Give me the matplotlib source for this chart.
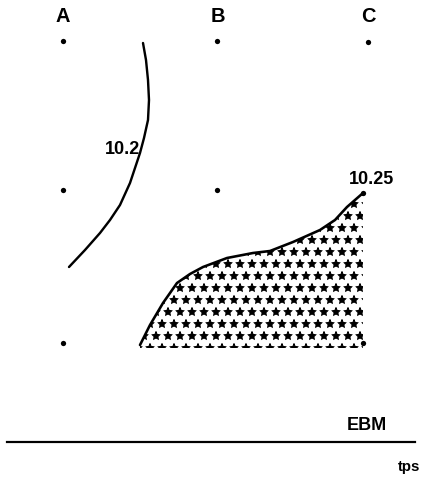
import matplotlib
matplotlib.use("Agg")
import matplotlib.pyplot as plt
from matplotlib.patches import Polygon

# Station grid (columns A, B, C; three rows of sampling points)
station_labels = ["A", "B", "C"]
label_x = [63, 218, 368]
label_y = [16, 16, 16]
dot_x = [63, 217, 368, 63, 217, 363, 63, 363]
dot_y = [41, 41, 42, 190, 190, 193, 343, 343]

# Isoline 10.2
iso_x = [143, 146, 148, 149, 148, 144, 140, 135, 130, 120, 110, 100, 85, 69]
iso_y = [43, 60, 80, 100, 120, 138, 153, 168, 183, 205, 220, 233, 250, 267]

# Front of the 10.25 zone
front_x = [140, 150, 163, 177, 190, 203, 227, 253, 270, 293, 320, 335, 347, 363]
front_y = [345, 325, 303, 283, 274, 267, 258, 253, 251, 242, 230, 220, 207, 193]
zone_bottom = 348

# At 72 dpi one point equals one pixel
DPI = 72
fig = plt.figure(figsize=(431 / DPI, 477 / DPI), dpi=DPI)
ax = fig.add_axes([0, 0, 1, 1])
ax.set_xlim(0, 431)
ax.set_ylim(477, 0)
ax.axis("off")

font = dict(family=["Liberation Sans", "DejaVu Sans"], weight="bold", color="black")

for lab, x, y in zip(station_labels, label_x, label_y):
    ax.text(x, y, lab, ha="center", va="center", fontsize=20, **font)

ax.scatter(dot_x, dot_y, s=28, color="black", zorder=5, linewidths=0)

ax.plot(iso_x, iso_y, color="black", lw=2.4, solid_capstyle="round",
        solid_joinstyle="round")
ax.text(123, 150, "10.2", ha="center", va="center", fontsize=18, **font)

poly_pts = list(zip(front_x, front_y)) + [(front_x[-1], zone_bottom), (front_x[0], zone_bottom)]
zone = Polygon(poly_pts, closed=True, facecolor="white", edgecolor="black",
               hatch="*.", linewidth=0)
ax.add_patch(zone)
ax.plot(front_x, front_y, color="black", lw=2.6, solid_capstyle="round",
        solid_joinstyle="round")
ax.text(372, 180, "10.25", ha="center", va="center", fontsize=18, **font)

# Time axis
ax.plot([7, 415], [442, 442], color="black", lw=2.2)
ax.text(367, 425, "EBM", ha="center", va="center", fontsize=18, **font)
ax.text(409, 467, "tps", ha="center", va="center", fontsize=15, **font)

fig.savefig("out.png", dpi=DPI)
